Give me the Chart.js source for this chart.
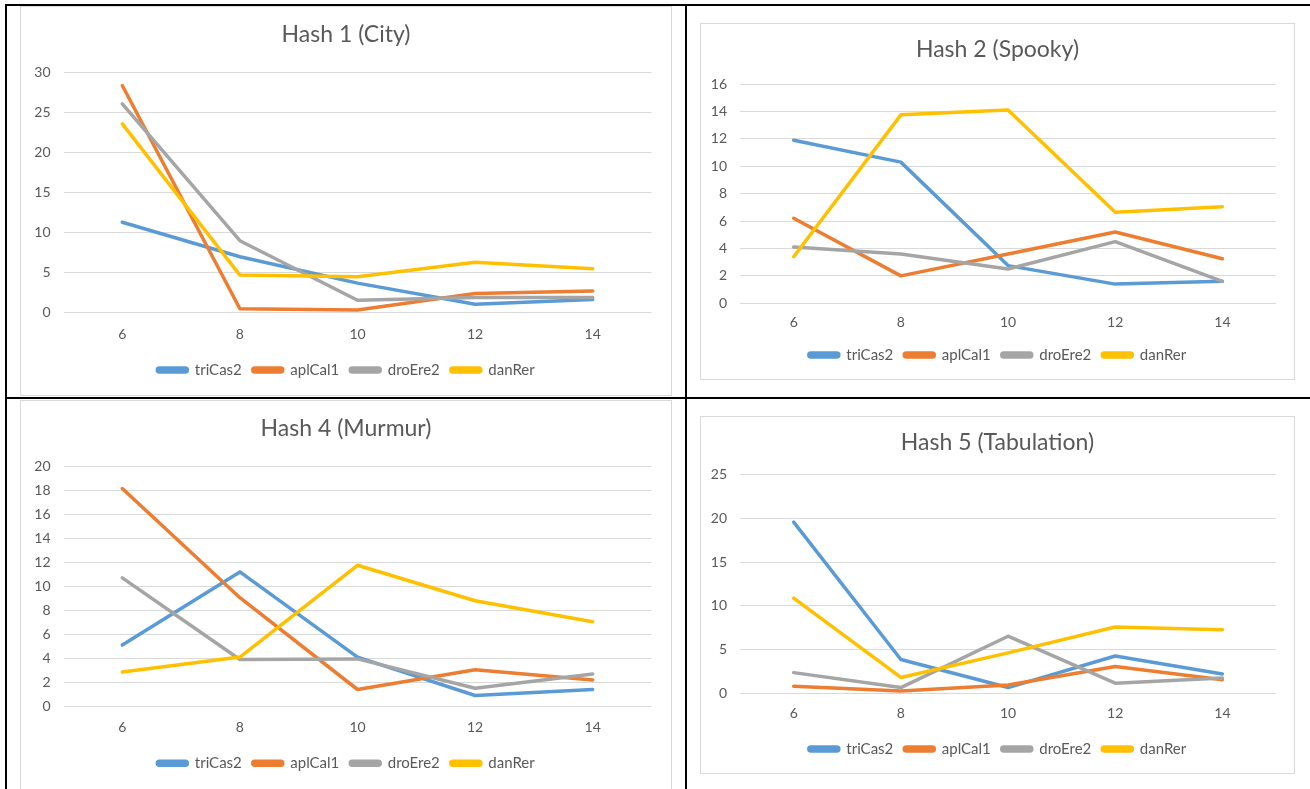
<!DOCTYPE html>
<html>
<head>
<meta charset="utf-8">
<title>Hash timings</title>
<script src="https://cdn.jsdelivr.net/npm/chart.js@4.4.1/dist/chart.umd.min.js"></script>
<style>
  html, body { margin: 0; padding: 0; background: #ffffff; }
  body { position: relative; width: 1310px; height: 789px; overflow: hidden; font-family: Lato, "Open Sans", sans-serif; }
  .rule { position: absolute; background: #000000; }
  .frame { position: absolute; box-sizing: border-box; border: 1px solid #d9d9d9; background: #ffffff; overflow: hidden; }
  .frame canvas { display: block; }
</style>
</head>
<body>
<!-- table rules -->
<div class="rule" style="left:5px;top:4px;width:1305px;height:2px"></div>
<div class="rule" style="left:5px;top:4px;width:2px;height:785px"></div>
<div class="rule" style="left:685px;top:4px;width:2px;height:785px"></div>
<div class="rule" style="left:5px;top:397px;width:1305px;height:2px"></div>

<div class="frame" style="left:20px;top:6px;width:652px;height:390px"><canvas id="hashCity" width="650" height="388"></canvas></div>
<div class="frame" style="left:700px;top:23px;width:595px;height:357px"><canvas id="hashSpooky" width="593" height="355"></canvas></div>
<div class="frame" style="left:20px;top:400px;width:652px;height:400px"><canvas id="hashMurmur" width="650" height="398"></canvas></div>
<div class="frame" style="left:700px;top:416px;width:595px;height:358px"><canvas id="hashTabulation" width="593" height="356"></canvas></div>

<script>
// x categories shared by every panel
const categories = ['6', '8', '10', '12', '14'];
const seriesNames = ['triCas2', 'aplCal1', 'droEre2', 'danRer'];
const seriesColors = ['#5B9BD5', '#ED7D31', '#A5A5A5', '#FFC000'];

// Hash 1 (City)
const cityTriCas2 = [11.3, 7.0, 3.7, 1.05, 1.65];
const cityAplCal1 = [28.4, 0.5, 0.33, 2.4, 2.7];
const cityDroEre2 = [26.1, 9.0, 1.55, 1.9, 1.9];
const cityDanRer  = [23.6, 4.7, 4.5, 6.3, 5.5];

// Hash 2 (Spooky)
const spookyTriCas2 = [11.9, 10.3, 2.75, 1.4, 1.6];
const spookyAplCal1 = [6.2, 2.0, 3.6, 5.2, 3.25];
const spookyDroEre2 = [4.1, 3.6, 2.5, 4.5, 1.6];
const spookyDanRer  = [3.4, 13.75, 14.1, 6.65, 7.05];

// Hash 4 (Murmur)
const murmurTriCas2 = [5.1, 11.2, 4.1, 0.9, 1.4];
const murmurAplCal1 = [18.15, 9.05, 1.4, 3.05, 2.2];
const murmurDroEre2 = [10.7, 3.9, 3.95, 1.5, 2.7];
const murmurDanRer  = [2.85, 4.1, 11.75, 8.8, 7.05];

// Hash 5 (Tabulation)
const tabTriCas2 = [19.55, 3.9, 0.7, 4.3, 2.25];
const tabAplCal1 = [0.85, 0.3, 1.0, 3.1, 1.6];
const tabDroEre2 = [2.4, 0.7, 6.55, 1.2, 1.8];
const tabDanRer  = [10.9, 1.85, 4.65, 7.6, 7.3];

// value axes
const titles = ['Hash 1 (City)', 'Hash 2 (Spooky)', 'Hash 4 (Murmur)', 'Hash 5 (Tabulation)'];
const yMax = [30, 16, 20, 25];
const yStep = [5, 2, 2, 5];

// panel geometry in canvas pixels: plot box, title/label/legend centre lines
const panels = [
  { id: 'hashCity',       plotL: 42.5, plotR: 630.5, plotT: 65.7, plotB: 305.7, titleY: 28, xLabY: 327,   legY: 363 },
  { id: 'hashSpooky',     plotL: 39.1, plotR: 575,   plotT: 60,   plotB: 279.3, titleY: 26, xLabY: 298.7, legY: 331 },
  { id: 'hashMurmur',     plotL: 42.5, plotR: 630.5, plotT: 65.3, plotB: 305.3, titleY: 28, xLabY: 326.3, legY: 362.3 },
  { id: 'hashTabulation', plotL: 39.1, plotR: 575,   plotT: 57.3, plotB: 276.7, titleY: 26, xLabY: 296,   legY: 332 }
];

const panelSeries = [
  [cityTriCas2, cityAplCal1, cityDroEre2, cityDanRer],
  [spookyTriCas2, spookyAplCal1, spookyDroEre2, spookyDanRer],
  [murmurTriCas2, murmurAplCal1, murmurDroEre2, murmurDanRer],
  [tabTriCas2, tabAplCal1, tabDroEre2, tabDanRer]
];

const TEXT = '#595959';
const GRID = '#D9D9D9';
const TITLE_SIZE = 23;
const TICK_SIZE = 14;
const LEGEND_SIZE = 15;
const LEGEND_PAD = 11;

Chart.defaults.font.family = 'Lato, "Open Sans", sans-serif';
Chart.defaults.color = TEXT;

panels.forEach((g, p) => {
  const canvas = document.getElementById(g.id);
  const w = canvas.width, h = canvas.height;
  const padX = w - g.plotR;
  const titleH = TITLE_SIZE * 1.2;
  const legendTop = g.legY - LEGEND_PAD - LEGEND_SIZE / 2;
  const legendH = LEGEND_SIZE + LEGEND_PAD + 10;
  const padB = h - (legendTop + legendH);

  new Chart(canvas, {
    type: 'line',
    data: {
      labels: categories,
      datasets: seriesNames.map((name, i) => ({
        label: name,
        data: panelSeries[p][i],
        borderColor: seriesColors[i],
        backgroundColor: seriesColors[i],
        borderWidth: 3.5,
        borderJoinStyle: 'round',
        borderCapStyle: 'round',
        pointRadius: 0,
        pointHoverRadius: 0,
        tension: 0,
        fill: false,
        order: seriesNames.length - 1 - i
      }))
    },
    options: {
      responsive: false,
      devicePixelRatio: 1,
      animation: false,
      events: [],
      layout: { padding: { left: padX, right: padX, top: 0, bottom: padB } },
      plugins: {
        title: {
          display: true,
          text: titles[p],
          color: TEXT,
          font: { size: TITLE_SIZE, weight: 'normal', lineHeight: 1.2 },
          padding: { top: g.titleY - titleH / 2, bottom: g.plotT - g.titleY - titleH / 2 }
        },
        legend: {
          position: 'bottom',
          labels: {
            color: TEXT,
            font: { size: LEGEND_SIZE },
            boxWidth: 30,
            boxHeight: 4,
            padding: LEGEND_PAD,
            useBorderRadius: true,
            borderRadius: 2,
            sort: (a, b) => a.datasetIndex - b.datasetIndex
          }
        },
        tooltip: { enabled: false }
      },
      scales: {
        x: {
          type: 'category',
          offset: true,
          grid: { display: false, drawTicks: false },
          border: { display: false },
          ticks: {
            color: TEXT,
            font: { size: TICK_SIZE },
            padding: g.xLabY - g.plotB - TICK_SIZE * 0.6,
            maxRotation: 0
          },
          afterFit: (s) => { s.height = legendTop - g.plotB; }
        },
        y: {
          min: 0,
          max: yMax[p],
          grid: { color: GRID, lineWidth: 1, drawTicks: false },
          border: { display: false },
          ticks: {
            stepSize: yStep[p],
            color: TEXT,
            font: { size: TICK_SIZE },
            padding: 13
          },
          afterFit: (s) => {
            s.width = g.plotL - padX;
            // tick labels reach into the left padding, so skip the label clip box
            s._computeLabelArea = () => undefined;
          }
        }
      }
    }
  });
});
</script>
</body>
</html>
